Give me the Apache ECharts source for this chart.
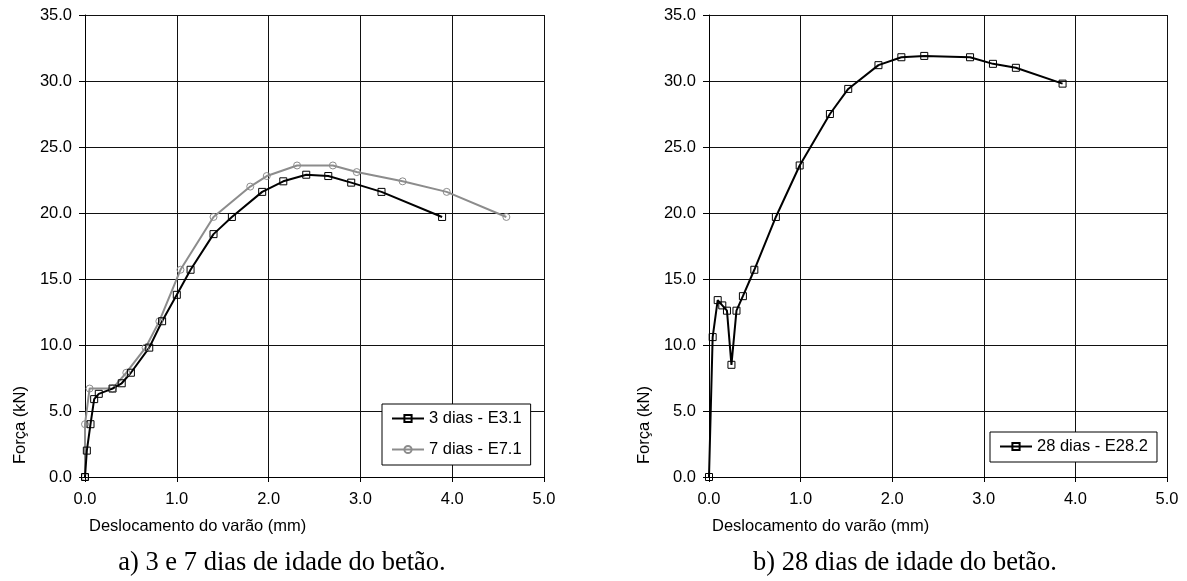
<!DOCTYPE html>
<html>
<head>
<meta charset="utf-8">
<script src="https://cdn.jsdelivr.net/npm/echarts@6/dist/echarts.min.js"></script>
<style>
  html, body { margin: 0; padding: 0; background: #fff; }
  #chart { width: 1187px; height: 581px; }
</style>
</head>
<body>
<div id="chart"></div>
<script>
// 3 dias - E3.1
var days3X = [0, 0.02, 0.06, 0.10, 0.15, 0.30, 0.40, 0.50, 0.70, 0.84, 1.00, 1.15, 1.40, 1.60, 1.93, 2.16, 2.41, 2.65, 2.90, 3.23, 3.89];
var days3Y = [0, 2.0, 4.0, 5.9, 6.3, 6.7, 7.1, 7.9, 9.8, 11.8, 13.8, 15.7, 18.4, 19.7, 21.6, 22.4, 22.9, 22.8, 22.3, 21.6, 19.7];

// 7 dias - E7.1
var days7X = [0, 0, 0.05, 0.30, 0.45, 0.66, 0.81, 1.04, 1.40, 1.80, 1.98, 2.31, 2.70, 2.96, 3.46, 3.94, 4.59];
var days7Y = [0, 4.0, 6.7, 6.7, 7.9, 9.8, 11.8, 15.7, 19.7, 22.0, 22.8, 23.6, 23.6, 23.1, 22.4, 21.6, 19.7];

// 28 dias - E28.2
var days28X = [0, 0.04, 0.095, 0.145, 0.196, 0.245, 0.30, 0.37, 0.495, 0.73, 0.99, 1.32, 1.52, 1.85, 2.10, 2.35, 2.85, 3.10, 3.35, 3.86];
var days28Y = [0, 10.6, 13.4, 13.0, 12.6, 8.5, 12.6, 13.7, 15.7, 19.7, 23.6, 27.5, 29.4, 31.2, 31.8, 31.9, 31.8, 31.3, 31.0, 29.8];

var seriesNames = ['3 dias - E3.1', '7 dias - E7.1', '28 dias - E28.2'];
var xTitle = 'Deslocamento do varão (mm)';
var yTitle = 'Força (kN)';
var captions = ['a) 3 e 7 dias de idade do betão.', 'b) 28 dias de idade do betão.'];

var sans = 'Liberation Sans, Arial, sans-serif';
var serif = 'Liberation Serif, Times New Roman, serif';

function pairs(xs, ys) {
    var out = [];
    for (var i = 0; i < xs.length; i++) out.push([xs[i], ys[i]]);
    return out;
}

function fmt(v) { return v.toFixed(1); }

function xAxisFor(idx) {
    return {
        type: 'value', gridIndex: idx, min: 0, max: 5, interval: 1,
        axisLine: { show: true, onZero: false, lineStyle: { color: '#000', width: 1 } },
        axisTick: { show: true, inside: false, length: 5, lineStyle: { color: '#000' } },
        axisLabel: { formatter: fmt, color: '#000', fontSize: 16.5, fontFamily: sans, margin: 14 },
        splitLine: { show: true, lineStyle: { color: '#111', width: 1 } }
    };
}

function yAxisFor(idx) {
    return {
        type: 'value', gridIndex: idx, min: 0, max: 35, interval: 5,
        axisLine: { show: true, onZero: false, lineStyle: { color: '#000', width: 1 } },
        axisTick: { show: true, inside: false, length: 6, lineStyle: { color: '#000' } },
        axisLabel: { formatter: fmt, color: '#000', fontSize: 16.5, fontFamily: sans, margin: 13 },
        splitLine: { show: true, lineStyle: { color: '#111', width: 1 } }
    };
}

function legendFor(left, top, names) {
    return {
        left: left, top: top, orient: 'vertical',
        data: names, selectedMode: false,
        backgroundColor: '#fff', borderColor: '#000', borderWidth: 1, borderRadius: 0,
        padding: [6, 9, 7, 9], itemGap: 14, itemWidth: 32, itemHeight: 9,
        textStyle: { color: '#000', fontSize: 16.5, fontFamily: sans, lineHeight: 16 }
    };
}

var myChart = echarts.init(document.getElementById('chart'));

var option = {
    animation: false,
    backgroundColor: '#fff',
    grid: [
        { left: 85, top: 15, width: 459, height: 462 },
        { left: 709, top: 15, width: 458, height: 462 }
    ],
    xAxis: [xAxisFor(0), xAxisFor(1)],
    yAxis: [yAxisFor(0), yAxisFor(1)],
    legend: [
        legendFor(382, 404, [seriesNames[0], seriesNames[1]]),
        legendFor(990, 432, [seriesNames[2]])
    ],
    series: [
        {
            name: seriesNames[1], type: 'line', xAxisIndex: 0, yAxisIndex: 0,
            data: pairs(days7X, days7Y),
            symbol: 'circle', symbolSize: 7,
            itemStyle: { color: 'rgba(255,255,255,0)', borderColor: '#8c8c8c', borderWidth: 1 },
            lineStyle: { color: '#8c8c8c', width: 2 }
        },
        {
            name: seriesNames[0], type: 'line', xAxisIndex: 0, yAxisIndex: 0,
            data: pairs(days3X, days3Y),
            symbol: 'rect', symbolSize: 7,
            itemStyle: { color: 'rgba(255,255,255,0)', borderColor: '#000', borderWidth: 1 },
            lineStyle: { color: '#000', width: 2 }
        },
        {
            name: seriesNames[2], type: 'line', xAxisIndex: 1, yAxisIndex: 1,
            data: pairs(days28X, days28Y),
            symbol: 'rect', symbolSize: 7,
            itemStyle: { color: 'rgba(255,255,255,0)', borderColor: '#000', borderWidth: 1 },
            lineStyle: { color: '#000', width: 2 }
        }
    ],
    graphic: [
        // titulos dos eixos
        { type: 'text', left: 89, top: 518, style: { text: xTitle, fill: '#000', font: '16.5px ' + sans } },
        { type: 'text', left: 712, top: 518, style: { text: xTitle, fill: '#000', font: '16.5px ' + sans } },
        { type: 'text', x: 20, y: 425, rotation: Math.PI / 2,
          style: { text: yTitle, fill: '#000', font: '16.5px ' + sans, align: 'center', verticalAlign: 'middle' } },
        { type: 'text', x: 644, y: 425, rotation: Math.PI / 2,
          style: { text: yTitle, fill: '#000', font: '16.5px ' + sans, align: 'center', verticalAlign: 'middle' } },
        // legendas das figuras
        { type: 'text', x: 282, y: 563,
          style: { text: captions[0], fill: '#000', font: '26.5px ' + serif, align: 'center', verticalAlign: 'middle' } },
        { type: 'text', x: 905, y: 563,
          style: { text: captions[1], fill: '#000', font: '26.5px ' + serif, align: 'center', verticalAlign: 'middle' } }
    ]
};

myChart.setOption(option);
</script>
</body>
</html>
